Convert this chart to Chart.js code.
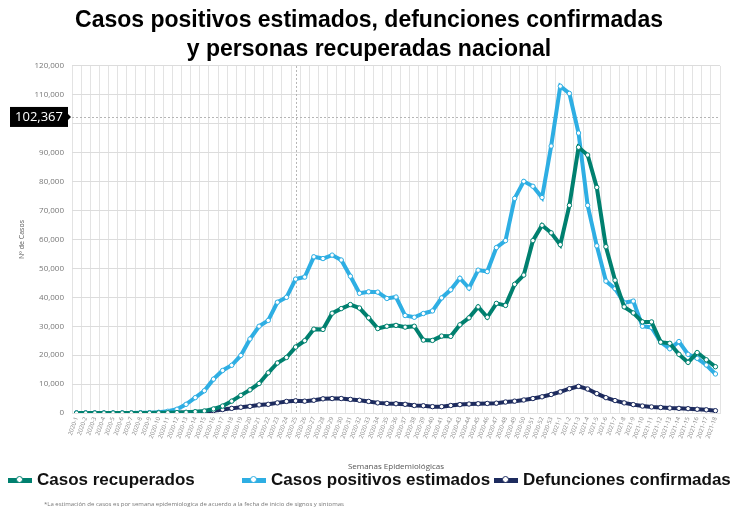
<!DOCTYPE html>
<html>
<head>
<meta charset="utf-8">
<script src="https://cdn.jsdelivr.net/npm/chart.js@4/dist/chart.umd.min.js"></script>
<style>
  html, body { margin: 0; padding: 0; background: #fff; }
  #wrap { position: relative; width: 738px; height: 510px; }
  #chart { position: absolute; left: 0; top: 0; }
  .leg { position: absolute; top: 470px; font: bold 17px "Liberation Sans", Arial, sans-serif; color: #111; white-space: nowrap; display: flex; align-items: center; }
  .sw { position: relative; width: 24px; height: 5px; margin-right: 5px; }
  .sw i { position: absolute; left: 8px; top: -2px; width: 7px; height: 7px; border-radius: 50%; background: #fff; border: 1px solid; box-sizing: border-box; }
  #note { position: absolute; left: 44px; top: 500px; font: 6px "Open Sans", sans-serif; color: #777; }
</style>
</head>
<body>
<div id="wrap">
  <canvas id="chart" width="738" height="510"></canvas>
  <div class="leg" style="left:8px"><span class="sw" style="background:#00806f"><i style="border-color:#00806f"></i></span>Casos recuperados</div>
  <div class="leg" style="left:242px"><span class="sw" style="background:#2eaee3"><i style="border-color:#2eaee3"></i></span>Casos positivos estimados</div>
  <div class="leg" style="left:494px"><span class="sw" style="background:#1d2b5e"><i style="border-color:#1d2b5e"></i></span>Defunciones confirmadas</div>
  <div id="note">*La estimación de casos es por semana epidemiologica de acuerdo a la fecha de inicio de signos y sintomas</div>
</div>
<script>
// epidemiological weeks 2020-1 .. 2020-53, 2021-1 .. 2021-18
const weeks2020 = Array.from({ length: 53 }, (_, i) => "2020-" + (i + 1));
const weeks2021 = Array.from({ length: 18 }, (_, i) => "2021-" + (i + 1));
const weeks = weeks2020.concat(weeks2021);

const recuperados = [
  0, 0, 0, 0, 0, 0, 0, 0, 0, 50, 100, 150, 250, 450, 700, 1400, 2400, 4100, 6100, 8000,
  10200, 13900, 17300, 19200, 22800, 25000, 29000, 28900, 34500, 36100, 37500, 36300, 32900, 29200, 30000, 30300,
  29700, 30000, 25200, 25100, 26600, 26500, 30500, 32900, 36700, 33100, 37900, 37200, 44500, 47700, 59600, 64900,
  62300, 58200, 71800, 91900, 89200, 78000, 57500, 45900, 36700, 34600, 31500, 31500, 24500, 24100, 20300, 17500,
  20900, 18400, 16000
];
const positivos = [
  0, 0, 0, 0, 0, 0, 0, 50, 100, 250, 600, 1300, 3000, 5300, 7700, 11700, 14700, 16500, 19900, 25600,
  30000, 32000, 38300, 40000, 46300, 47000, 54000, 53400, 54600, 52900, 47300, 41400, 41900, 41800, 39600, 40100,
  33700, 33100, 34400, 35300, 39800, 42600, 46600, 43200, 49400, 48900, 57200, 59600, 74200, 80100, 78400, 74500,
  92300, 113000, 110500, 96800, 71800, 57800, 45600, 43000, 38100, 38700, 30000, 29600, 24500, 22200, 24700, 20300,
  18900, 16600, 13500
];
const defunciones = [
  0, 0, 0, 0, 0, 0, 0, 0, 0, 0, 50, 100, 150, 250, 400, 800, 1200, 1600, 2000, 2300,
  2800, 3000, 3500, 4000, 4200, 4100, 4400, 4900, 5000, 5000, 4700, 4400, 4000, 3500, 3300, 3200,
  3000, 2600, 2500, 2200, 2200, 2600, 2900, 3100, 3200, 3300, 3400, 3800, 4100, 4500, 5000, 5600,
  6400, 7300, 8400, 9200, 8300, 6700, 5300, 4300, 3500, 2900, 2400, 2100, 1900, 1700, 1600, 1500,
  1300, 1100, 800
];

const markValue = 102367;
const markWeek = "2020-25";

const refLines = {
  id: "refLines",
  beforeDatasetsDraw(chart) {
    const { ctx, chartArea, scales } = chart;
    const y = Math.round(scales.y.getPixelForValue(markValue)) + 0.5;
    const x = Math.round(scales.x.getPixelForValue(weeks.indexOf(markWeek))) + 0.5;
    ctx.save();
    ctx.strokeStyle = "#b5b5b5";
    ctx.lineWidth = 1;
    ctx.setLineDash([2, 2]);
    ctx.beginPath();
    ctx.moveTo(chartArea.left, y);
    ctx.lineTo(chartArea.right, y);
    ctx.moveTo(x, chartArea.top);
    ctx.lineTo(x, chartArea.bottom);
    ctx.stroke();
    ctx.restore();
  },
  afterDraw(chart) {
    const { ctx, scales } = chart;
    const y = scales.y.getPixelForValue(markValue);
    ctx.save();
    ctx.fillStyle = "#000";
    ctx.fillRect(10, y - 10, 58, 20);
    ctx.beginPath();
    ctx.moveTo(68, y - 3);
    ctx.lineTo(71, y);
    ctx.lineTo(68, y + 3);
    ctx.fill();
    ctx.fillStyle = "#fff";
    ctx.font = '13px "Open Sans", sans-serif';
    ctx.textAlign = "center";
    ctx.textBaseline = "middle";
    ctx.fillText(markValue.toLocaleString("en-US"), 39, y + 0.5);
    ctx.restore();
  }
};

function series(label, data, color) {
  return {
    label: label,
    data: data,
    borderColor: color,
    backgroundColor: "#fff",
    borderWidth: 4,
    pointRadius: 2.2,
    pointBorderWidth: 1,
    pointBorderColor: color,
    pointBackgroundColor: "#fff",
    tension: 0,
    fill: false
  };
}

new Chart(document.getElementById("chart"), {
  type: "line",
  data: {
    labels: weeks,
    datasets: [
      series("Casos recuperados", recuperados, "#00806f"),
      series("Casos positivos estimados", positivos, "#2eaee3"),
      series("Defunciones confirmadas", defunciones, "#1d2b5e")
    ]
  },
  plugins: [refLines],
  options: {
    responsive: false,
    animation: false,
    layout: { padding: { left: 18, right: 18, top: 0, bottom: 38 } },
    plugins: {
      legend: { display: false },
      tooltip: { enabled: false },
      title: {
        display: true,
        text: ["Casos positivos estimados, defunciones confirmadas", "y personas recuperadas nacional"],
        color: "#000",
        font: { family: '"Liberation Sans", Arial, sans-serif', size: 23, weight: "bold", lineHeight: 1.26 },
        padding: { top: 6, bottom: 2 }
      }
    },
    scales: {
      x: {
        offset: true,
        grid: { color: "#e3e3e3", offset: true, drawTicks: false },
        border: { color: "#e3e3e3" },
        ticks: {
          autoSkip: false,
          maxRotation: 70,
          minRotation: 70,
          padding: 3,
          color: "#888",
          font: { family: '"Open Sans", sans-serif', size: 6 }
        },
        title: {
          display: true,
          text: "Semanas Epidemiológicas",
          color: "#555",
          font: { family: '"Open Sans", sans-serif', size: 8 },
          padding: { top: 6, bottom: 0 }
        },
        afterFit(scale) { scale.height = 59; }
      },
      y: {
        min: 0,
        max: 120000,
        grid: { color: "#dcdcdc", drawTicks: false },
        border: { display: false },
        ticks: {
          stepSize: 10000,
          padding: 8,
          color: "#777",
          font: { family: '"Open Sans", sans-serif', size: 8 },
          callback: (v) => v.toLocaleString("en-US")
        },
        title: {
          display: true,
          text: "Nº de Casos",
          color: "#555",
          font: { family: '"Open Sans", sans-serif', size: 7 },
          padding: { top: 0, bottom: 0 }
        },
        afterFit(scale) { scale.width = 54; }
      }
    }
  }
});
</script>
</body>
</html>
